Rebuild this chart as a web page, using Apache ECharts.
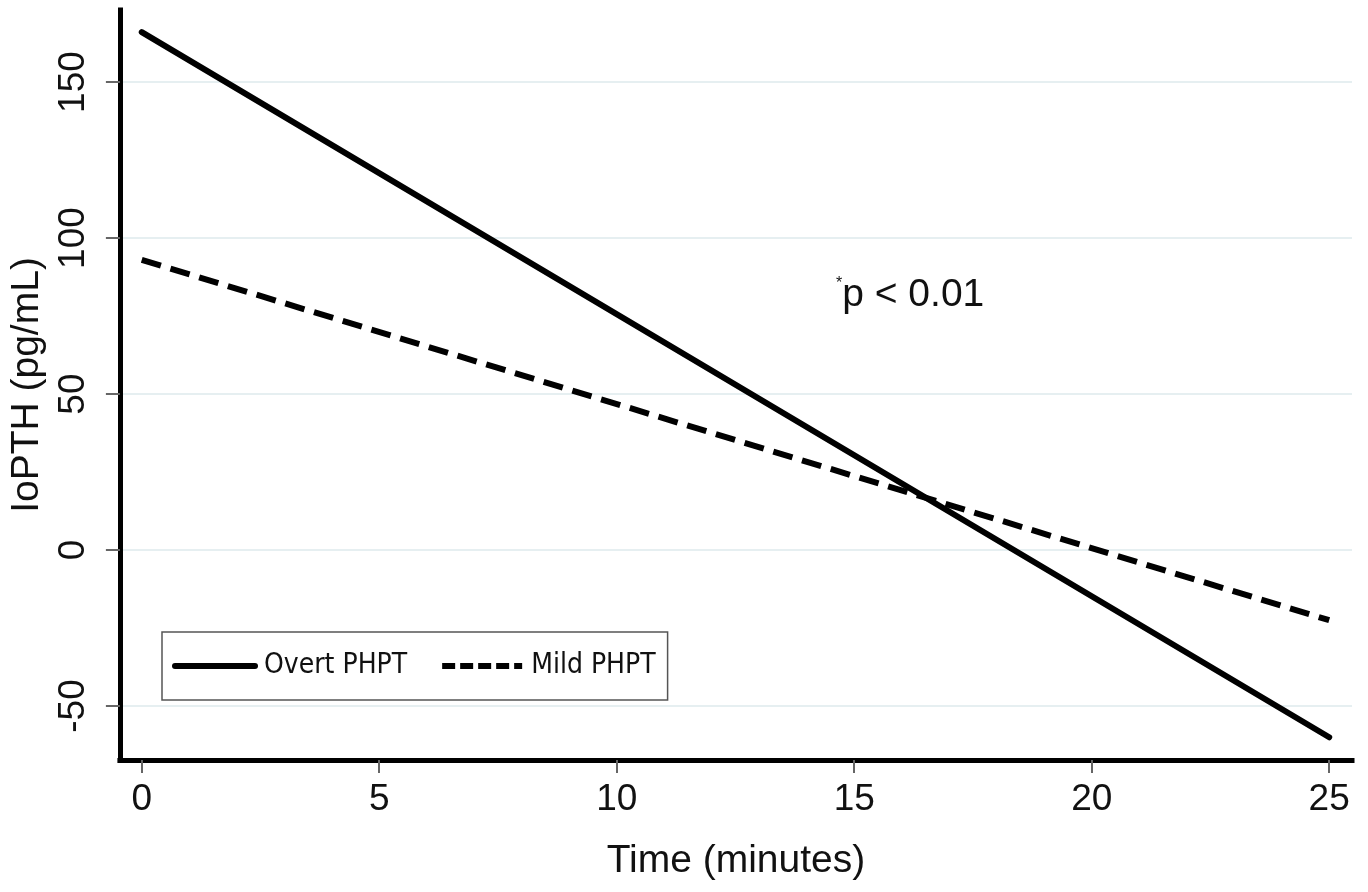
<!DOCTYPE html>
<html lang="en">
<head>
    <meta charset="UTF-8">
    <title>IoPTH decline</title>
    <script src="https://cdn.jsdelivr.net/npm/echarts@6/dist/echarts.min.js"></script>
    <style>
        html, body{
            margin: 0;
            padding: 0;
            background: #ffffff;
        }
        #chart{
            width: 1368px;
            height: 892px;
        }
    </style>
</head>
<body>
    <div id="chart"></div>
<script>
    // values
    var timeMin = [0, 25];
    var overtPHPT = [166, -60];
    var mildPHPT = [93, -22.5];
    var xTicks = [0, 5, 10, 15, 20, 25];
    var yTicks = [-50, 0, 50, 100, 150];

    function pairs(xs, ys){
        return xs.map(function(x, i){ return [x, ys[i]]; });
    }

    var font = '"Liberation Sans", Arial, sans-serif';
    var narrow = '"Liberation Sans Narrow", "DejaVu Sans Condensed", "Liberation Sans", sans-serif';

    var chart = echarts.init(document.getElementById('chart'));
    chart.setOption({
        animation: false,
        backgroundColor: '#ffffff',
        grid: {
            left: 117,
            right: 16,
            top: 10,
            bottom: 132,
            containLabel: false
        },
        title: {
            text: '{s|*}p < 0.01',
            left: 836,
            top: 276,
            padding: 0,
            textStyle: {
                fontFamily: font,
                fontSize: 39,
                fontWeight: 'normal',
                color: '#111',
                rich: {
                    s: {fontFamily: font, fontSize: 16, verticalAlign: 'top', lineHeight: 16, color: '#111'}
                }
            }
        },
        legend: {
            left: 162,
            top: 632,
            orient: 'horizontal',
            borderColor: '#555',
            borderWidth: 1.5,
            padding: [20, 12, 20, 10],
            itemWidth: 80,
            itemHeight: 30,
            itemGap: 32,
            textStyle: {
                fontFamily: narrow,
                fontSize: 28,
                color: '#111',
                padding: [0, 0, 0, 4]
            },
            itemStyle: {opacity: 0},
            lineStyle: {width: 6},
            data: [
                {name: 'Overt PHPT'},
                {name: 'Mild PHPT', lineStyle: {type: [13, 5]}}
            ]
        },
        xAxis: {
            type: 'value',
            min: -0.46,
            max: 25.48,
            name: 'Time (minutes)',
            nameLocation: 'middle',
            nameGap: 82,
            nameTextStyle: {fontFamily: font, fontSize: 39, color: '#111'},
            axisLine: {onZero: false, lineStyle: {color: '#000', width: 5, cap: 'square'}},
            axisTick: {show: true, length: 13, customValues: xTicks, lineStyle: {color: '#666', width: 2}},
            axisLabel: {customValues: xTicks, fontFamily: font, fontSize: 37, color: '#111', margin: 21},
            splitLine: {show: false}
        },
        yAxis: {
            type: 'value',
            min: -67.3,
            max: 173.1,
            name: 'IoPTH (pg/mL)',
            nameLocation: 'middle',
            nameGap: 68,
            nameTextStyle: {fontFamily: font, fontSize: 39, color: '#111'},
            axisLine: {show: true, onZero: false, lineStyle: {color: '#000', width: 5, cap: 'square'}},
            axisTick: {show: true, length: 14, customValues: yTicks, lineStyle: {color: '#666', width: 2}},
            axisLabel: {customValues: yTicks, rotate: 90, fontFamily: font, fontSize: 37, color: '#111', margin: 28},
            splitLine: {show: true, lineStyle: {color: '#e6eff1', width: 2}}
        },
        series: [
            {
                name: 'Overt PHPT',
                type: 'line',
                symbol: 'none',
                data: pairs(timeMin, overtPHPT),
                lineStyle: {color: '#000', width: 6, type: 'solid', cap: 'round'},
                itemStyle: {color: '#000'}
            },
            {
                name: 'Mild PHPT',
                type: 'line',
                symbol: 'none',
                data: pairs(timeMin, mildPHPT),
                lineStyle: {color: '#000', width: 6, type: [20, 10], cap: 'butt'},
                itemStyle: {color: '#000'}
            }
        ]
    });
</script>
</body>
</html>
